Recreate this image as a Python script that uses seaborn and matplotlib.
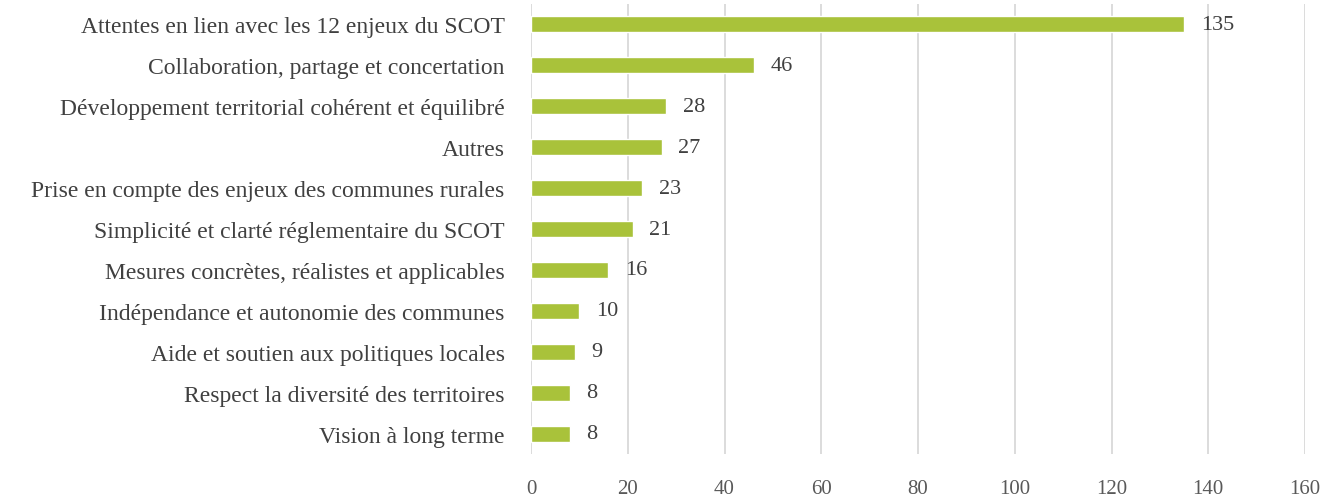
import numpy as np
import pandas as pd
import matplotlib.pyplot as plt
import seaborn as sns

categories = [
    "Attentes en lien avec les 12 enjeux du SCOT",
    "Collaboration, partage et concertation",
    "Développement territorial cohérent et équilibré",
    "Autres",
    "Prise en compte des enjeux des communes rurales",
    "Simplicité et clarté réglementaire du SCOT",
    "Mesures concrètes, réalistes et applicables",
    "Indépendance et autonomie des communes",
    "Aide et soutien aux politiques locales",
    "Respect la diversité des territoires",
    "Vision à long terme",
]
counts = [135, 46, 28, 27, 23, 21, 16, 10, 9, 8, 8]
xticks = [0, 20, 40, 60, 80, 100, 120, 140, 160]

df = pd.DataFrame({"categorie": categories, "n": counts})

sns.set_style("white")
plt.rcParams['font.family'] = ['Liberation Serif', 'DejaVu Serif']

fig = plt.figure(figsize=(13.39, 5.02), dpi=100)
ax = fig.add_axes([0.3966, 0.0936, 0.578, 0.8964])

sns.barplot(data=df, x="n", y="categorie", color="#A9C23A", width=0.39,
            saturation=1, ax=ax, zorder=3)

ax.set_xlim(0, 160)
ax.set_ylim(10.5, -0.5)
ax.set_xticks(xticks)
ax.set_xlabel("")
ax.set_ylabel("")
ax.xaxis.grid(True, color="#D9D9D9", linewidth=1.3, zorder=0)
ax.yaxis.grid(False)
sns.despine(ax=ax, left=True, bottom=True)
ax.tick_params(axis="x", length=0, pad=18, labelsize=15, labelcolor="#595959")
ax.tick_params(axis="y", length=0, pad=19, labelsize=17, labelcolor="#404040")

for c in ax.containers:
    ax.bar_label(c, padding=12, fontsize=16, color="#404040")

fig.savefig("out.png", dpi=100)
